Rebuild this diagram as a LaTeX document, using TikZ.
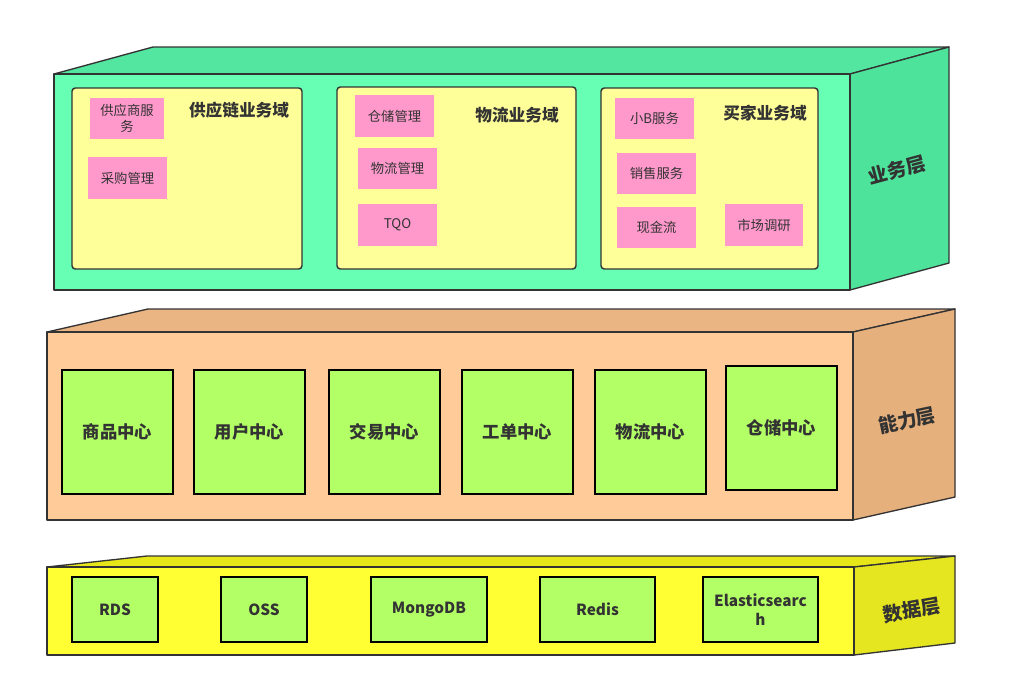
\documentclass[tikz,border=0pt]{standalone}
\usepackage{fontspec}
\setmainfont{Noto Sans CJK SC}
\usepackage{tikz}
\definecolor{bizfront}{HTML}{66FFB3}
\definecolor{biztop}{HTML}{52E6A0}
\definecolor{bizside}{HTML}{4DE39A}
\definecolor{domain}{HTML}{FFFF99}
\definecolor{note}{HTML}{FF99CC}
\definecolor{capfront}{HTML}{FFCC99}
\definecolor{captop}{HTML}{EBB583}
\definecolor{capside}{HTML}{E6B07D}
\definecolor{hub}{HTML}{B3FF66}
\definecolor{datafront}{HTML}{FFFF33}
\definecolor{datatop}{HTML}{E6E619}
\definecolor{dataside}{HTML}{E6E620}
\definecolor{edge}{HTML}{333333}
\definecolor{ink}{HTML}{333333}

\begin{document}
\begin{tikzpicture}[x=0.75pt,y=-0.75pt,
  face/.style={draw=edge,line width=1pt,line join=round},
  dom/.style={draw=edge,fill=domain,rounded corners=2.5pt,line width=1.1pt},
  sticky/.style={fill=note,text=ink,font=\fontsize{10}{12}\selectfont,align=center,inner sep=0pt},
  hubbox/.style={draw=black,fill=hub,line width=1.1pt,font=\fontsize{13}{15}\selectfont\bfseries,text=ink},
  dbbox/.style={hubbox,font=\fontsize{11.5}{14}\selectfont\bfseries,align=center},
  title/.style={font=\fontsize{12.5}{15}\selectfont\bfseries,text=ink},
  tier/.style={font=\fontsize{14.5}{17}\selectfont\bfseries,text=ink}]
  \useasboundingbox (0,0) rectangle (1025,687);

  % business layer
  \filldraw[face,fill=biztop] (54,74) -- (153,47) -- (949,47) -- (850,74) -- cycle;
  \filldraw[face,fill=bizside] (850,74) -- (949,47) -- (949,263) -- (850,290) -- cycle;
  \filldraw[face,fill=bizfront] (54,74) rectangle (850,290);
  \node[dom,minimum width=230*0.75pt,minimum height=181*0.75pt] (supply) at (187,178.5) {};
  \node[dom,minimum width=239*0.75pt,minimum height=182*0.75pt] (logis) at (456.5,178) {};
  \node[dom,minimum width=217*0.75pt,minimum height=181*0.75pt] (buyer) at (709.5,178.5) {};
  \node[title] (supplyT) at (239,110) {供应链业务域};
  \node[title] (logisT) at (517,115) {物流业务域};
  \node[title] (buyerT) at (765,113) {买家业务域};
  \node[sticky,minimum width=74*0.75pt,minimum height=41*0.75pt] (vendor) at (127,118.5) {供应商服\\务};
  \node[sticky,minimum width=79*0.75pt,minimum height=42*0.75pt] (purchase) at (127.5,178) {采购管理};
  \node[sticky,minimum width=79*0.75pt,minimum height=42*0.75pt] (wmsnote) at (394.5,116) {仓储管理};
  \node[sticky,minimum width=79*0.75pt,minimum height=41*0.75pt] (tmsnote) at (397.5,168.5) {物流管理};
  \node[sticky,minimum width=79*0.75pt,minimum height=42*0.75pt] (tqo) at (397.5,225) {TQO};
  \node[sticky,minimum width=79*0.75pt,minimum height=41*0.75pt] (smallb) at (654.5,118.5) {小B服务};
  \node[sticky,minimum width=79*0.75pt,minimum height=41*0.75pt] (sales) at (656.5,173.5) {销售服务};
  \node[sticky,minimum width=79*0.75pt,minimum height=41*0.75pt] (cash) at (656.5,227.5) {现金流};
  \node[sticky,minimum width=78*0.75pt,minimum height=42*0.75pt] (market) at (764,225) {市场调研};
  \node[tier,rotate=15] (bizL) at (897,170) {业务层};

  % capability layer
  \filldraw[face,fill=captop] (47,332) -- (148,309) -- (955,309) -- (853,332) -- cycle;
  \filldraw[face,fill=capside] (853,332) -- (955,309) -- (955,497) -- (853,520) -- cycle;
  \filldraw[face,fill=capfront] (47,332) rectangle (853,520);
  \foreach \cx/\name/\txt in {117.5/goods/商品中心,249.5/user/用户中心,384.5/trade/交易中心,517.5/ticket/工单中心,650.5/tms/物流中心}
    \node[hubbox,minimum width=111*0.75pt,minimum height=124*0.75pt] (\name) at (\cx,432) {\txt};
  \node[hubbox,minimum width=111*0.75pt,minimum height=124*0.75pt] (wms) at (781.5,428) {仓储中心};
  \node[tier,rotate=12] (capL) at (907,420) {能力层};

  % data layer
  \filldraw[face,fill=datatop] (47,567) -- (147,556) -- (955,556) -- (854,567) -- cycle;
  \filldraw[face,fill=dataside] (854,567) -- (955,556) -- (955,643) -- (854,655) -- cycle;
  \filldraw[face,fill=datafront] (47,567) rectangle (854,655);
  \node[dbbox,minimum width=86*0.75pt,minimum height=65*0.75pt] (rds) at (115,609.5) {RDS};
  \node[dbbox,minimum width=86*0.75pt,minimum height=65*0.75pt] (oss) at (264,609.5) {OSS};
  \node[dbbox,minimum width=116*0.75pt,minimum height=65*0.75pt] (mongo) at (429,609.5) {MongoDB};
  \node[dbbox,minimum width=115*0.75pt,minimum height=65*0.75pt] (redis) at (597.5,609.5) {Redis};
  \node[dbbox,minimum width=115*0.75pt,minimum height=65*0.75pt] (es) at (760.5,609.5) {Elasticsearc\\h};
  \node[tier,rotate=10] (dataL) at (912,610) {数据层};
\end{tikzpicture}
\end{document}
